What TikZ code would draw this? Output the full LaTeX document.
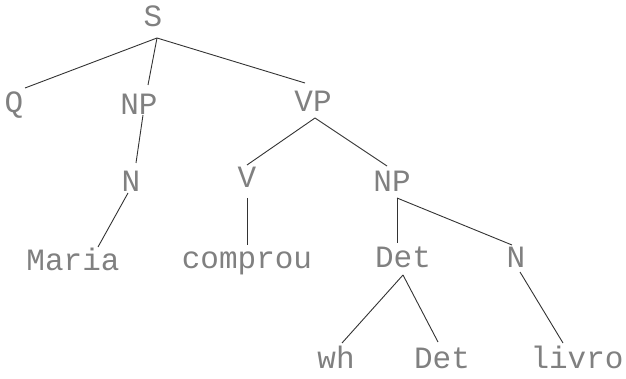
\documentclass[tikz,border=0pt]{standalone}
\usepackage{fontspec}
\setmonofont{Liberation Mono}
\begin{document}
\begin{tikzpicture}[x=1pt,y=-1pt,
  lbl/.style={anchor=base,inner sep=0pt,font=\ttfamily\fontsize{31}{31}\selectfont,text=black!50},
  edge/.style={draw=black!80,line width=0.9pt}]
\useasboundingbox (0,0) rectangle (626,379);
\node[lbl] (S) at (153,27) {S};
\node[lbl] (Q) at (14,113) {Q};
\node[lbl] (NP) at (139,115) {NP};
\node[lbl] (VP) at (313,112) {VP};
\node[lbl] (N) at (131,192) {N};
\node[lbl] (V) at (247,188) {V};
\node[lbl] (NPb) at (392,192) {NP};
\node[lbl] (Maria) at (73,270) {Maria};
\node[lbl] (comprou) at (247,269) {comprou};
\node[lbl] (Det) at (403,268) {Det};
\node[lbl] (Nb) at (516,268) {N};
\node[lbl] (wh) at (336,368) {wh};
\node[lbl] (Detb) at (442,368) {Det};
\node[lbl] (livro) at (577,368) {livro};
\path[edge] ([shift={(4,11)}]S.base) -- ([shift={(11,-25)}]Q.base);
\path[edge] ([shift={(4,11)}]S.base) -- ([shift={(9,-30)}]NP.base);
\path[edge] ([shift={(4,11)}]S.base) -- ([shift={(-8,-29)}]VP.base);
\path[edge] ([shift={(4,0)}]NP.base) -- ([shift={(5,-29)}]N.base);
\path[edge] ([shift={(2,6)}]VP.base) -- ([shift={(0,-23)}]V.base);
\path[edge] ([shift={(2,6)}]VP.base) -- ([shift={(-5,-26)}]NPb.base);
\path[edge] ([shift={(-3,1)}]N.base) -- ([shift={(25,-23)}]Maria.base);
\path[edge] ([shift={(0,10)}]V.base) -- ([shift={(0,-24)}]comprou.base);
\path[edge] ([shift={(5,6)}]NPb.base) -- ([shift={(-6,-25)}]Det.base);
\path[edge] ([shift={(5,6)}]NPb.base) -- ([shift={(-4,-23)}]Nb.base);
\path[edge] ([shift={(0,7)}]Det.base) -- ([shift={(6,-25)}]wh.base);
\path[edge] ([shift={(0,7)}]Det.base) -- ([shift={(-4,-26)}]Detb.base);
\path[edge] ([shift={(4,4)}]Nb.base) -- ([shift={(-14,-25)}]livro.base);
\end{tikzpicture}
\end{document}
